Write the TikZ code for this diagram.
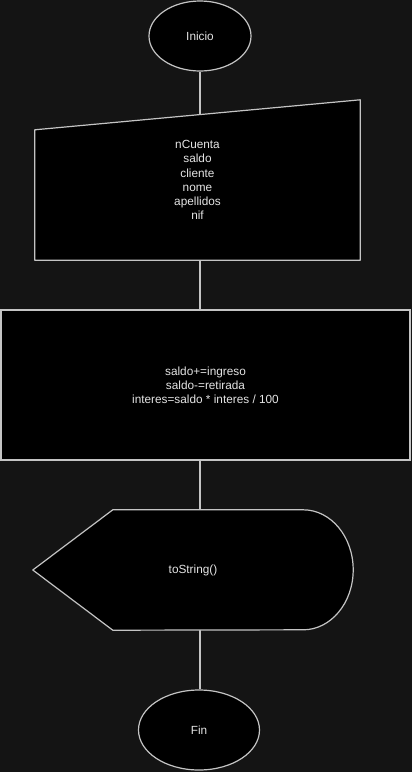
\documentclass[tikz,border=0pt]{standalone}
\usepackage{fontspec}
\setmainfont{Liberation Sans}
\usepackage{tikz}
\usetikzlibrary{positioning, shapes.geometric, backgrounds}
\definecolor{fcbg}{HTML}{141414}
\definecolor{fcline}{HTML}{C4C4C4}
\definecolor{fctext}{HTML}{E4E4E4}

\begin{document}
\begin{tikzpicture}[x=1pt, y=-1pt,
  term/.style={ellipse, draw=fcline, fill=black, line width=1.2pt, text=fctext, font=\fontsize{11.8}{14.2}\selectfont, inner sep=0pt},
  proc/.style={rectangle, draw=fcline, fill=black, line width=1.2pt, text=fctext, align=center, font=\fontsize{11.8}{14.2}\selectfont, inner sep=0pt},
  txt/.style={rectangle, text=fctext, align=center, font=\fontsize{11.8}{14.2}\selectfont, inner sep=0pt},
  shp/.style={draw=fcline, fill=black, line width=1.2pt, line join=round},
  conn/.style={draw=fcline, line width=1.2pt}
]
  \useasboundingbox (0,0) rectangle (412,772);

  \node[term, minimum width=102pt, minimum height=70pt] (inicio) at (200,36) {Inicio};
  \node[txt, minimum width=325pt, minimum height=160pt] (datos) at (197.5,180) {nCuenta\\saldo\\cliente\\nome\\apellidos\\nif};
  \node[proc, minimum width=409pt, minimum height=150pt] (calculo) at (205.5,385) {saldo+=ingreso\\saldo-=retirada\\interes=saldo * interes / 100};
  \node[txt, minimum width=320pt, minimum height=120pt] (salida) at (193,570) {toString()};
  \node[term, minimum width=121pt, minimum height=80pt] (fin) at (199,730) {Fin};

  \begin{scope}[on background layer]
    \fill[fcbg] (0,0) rectangle (412,772);
    \draw[conn] (inicio.south) -- (inicio.south |- datos.center);
    \draw[conn] (inicio.south |- datos.center) -- (inicio.south |- calculo.north);
    \draw[conn] (inicio.south |- calculo.south) -- (inicio.south |- salida.center);
    \draw[conn] (inicio.south |- salida.center) -- (inicio.south |- fin.north);
    % manual input
    \draw[shp] ([yshift=-30pt]datos.north west) -- (datos.north east) -- (datos.south east) -- (datos.south west) -- cycle;
    % display
    \draw[shp] (salida.west) -- ([xshift=80pt]salida.north west) -- ([xshift=-50pt]salida.north east)
      arc[start angle=90, end angle=-90, x radius=50pt, y radius=60pt] -- ([xshift=80pt]salida.south west) -- cycle;
  \end{scope}
\end{tikzpicture}
\end{document}
